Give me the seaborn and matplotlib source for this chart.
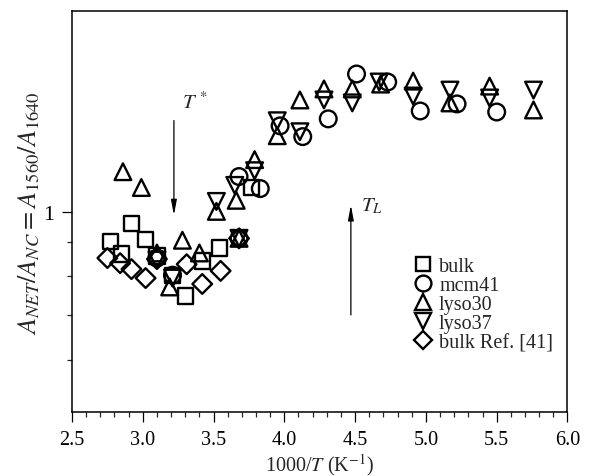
import matplotlib
matplotlib.use("Agg")
import matplotlib.pyplot as plt
import seaborn as sns
import pandas as pd
from matplotlib.lines import Line2D
from matplotlib.ticker import NullFormatter, MultipleLocator, FixedLocator

# ---- data ----
bulk_x = [2.77, 2.85, 2.92, 3.02, 3.10, 3.21, 3.30, 3.42, 3.54, 3.77]
bulk_y = [0.903, 0.864, 0.961, 0.909, 0.858, 0.803, 0.747, 0.843, 0.882, 1.087]

mcm41_x = [3.10, 3.21, 3.68, 3.68, 3.83, 3.97, 4.13, 4.31, 4.51, 4.73, 4.96, 5.22, 5.50]
mcm41_y = [0.852, 0.803, 0.912, 1.129, 1.083, 1.345, 1.296, 1.378, 1.609, 1.565, 1.416, 1.451, 1.411]

lyso30_x = [2.86, 2.99, 3.10, 3.19, 3.28, 3.40, 3.52, 3.66, 3.68, 3.79, 3.95, 4.11,
            4.28, 4.48, 4.68, 4.91, 5.17, 5.45, 5.76]
lyso30_y = [1.148, 1.087, 0.867, 0.771, 0.906, 0.867, 1.001, 1.040, 0.912, 1.197, 1.300, 1.471,
            1.528, 1.528, 1.554, 1.570, 1.456, 1.543, 1.421]

lyso37_x = [3.10, 3.21, 3.52, 3.65, 3.68, 3.79, 3.95, 4.11, 4.28, 4.48, 4.67, 4.91, 5.17, 5.45, 5.76]
lyso37_y = [0.846, 0.795, 1.036, 1.095, 0.912, 1.152, 1.369, 1.318, 1.471, 1.456, 1.565, 1.491,
            1.522, 1.481, 1.522]

ref_x = [2.75, 2.84, 2.92, 3.02, 3.10, 3.31, 3.42, 3.55, 3.68]
ref_y = [0.852, 0.837, 0.820, 0.795, 0.849, 0.834, 0.779, 0.815, 0.912]

series_names = ["bulk", "mcm41", "lyso30", "lyso37", "bulk Ref. [41]"]
series_x = [bulk_x, mcm41_x, lyso30_x, lyso37_x, ref_x]
series_y = [bulk_y, mcm41_y, lyso30_y, lyso37_y, ref_y]
series_markers = ["s", "o", "^", "v", "D"]
series_sizes = [11.0, 12.0, 12.0, 12.0, 10.0]   # marker size in points

x_ticks = [2.5, 3.0, 3.5, 4.0, 4.5, 5.0, 5.5, 6.0]
x_tick_labels = ["2.5", "3.0", "3.5", "4.0", "4.5", "5.0", "5.5", "6.0"]

# ---- style ----
sns.set_theme(style="ticks")
plt.rcParams["font.family"] = ["Liberation Serif", "DejaVu Serif"]
plt.rcParams["mathtext.fontset"] = "stix"
plt.rcParams["axes.linewidth"] = 1.1

fig = plt.figure(figsize=(5.91, 4.77), dpi=100)
ax = fig.add_axes([0.1218, 0.1335, 0.8384, 0.8413])

frames = []
for name, xs, ys in zip(series_names, series_x, series_y):
    frames.append(pd.DataFrame({"x": xs, "y": ys, "series": name}))
df = pd.concat(frames, ignore_index=True)

for name, mk, ms in zip(series_names, series_markers, series_sizes):
    sub = df[df["series"] == name]
    sns.scatterplot(data=sub, x="x", y="y", ax=ax, marker=mk, s=ms ** 2,
                    color="black", facecolor="none", edgecolor="black",
                    linewidth=1.7, legend=False, zorder=3)

ax.set_yscale("log")
ax.set_xlim(2.5, 6.0)
ax.set_ylim(0.5, 2.0)

ax.xaxis.set_major_locator(FixedLocator(x_ticks))
ax.set_xticklabels(x_tick_labels)
ax.xaxis.set_minor_locator(MultipleLocator(0.1))
ax.yaxis.set_major_locator(FixedLocator([1.0]))
ax.set_yticklabels(["1"])
ax.yaxis.set_minor_locator(FixedLocator([0.6, 0.7, 0.8, 0.9]))
ax.yaxis.set_minor_formatter(NullFormatter())

ax.tick_params(axis="both", which="major", direction="out", length=7.5, width=0.9,
               labelsize=14.5, colors="black", pad=5)
ax.tick_params(axis="y", which="major", labelsize=16)
ax.tick_params(axis="both", which="minor", direction="out", length=3.8, width=0.9)
ax.tick_params(top=False, right=False, which="both")
for sp in ax.spines.values():
    sp.set_visible(True)
    sp.set_color("black")

ax.set_xlabel(r"1000/$T$ (K$^{-1}$)", fontsize=14.5, labelpad=2)
ax.set_ylabel(r"$A_{NET}/A_{NC}=A_{1560}/A_{1640}$", fontsize=19, labelpad=1)

# arrows & labels
arrow_kw = dict(arrowstyle="-|>,head_length=0.9,head_width=0.17", color="black",
                lw=0.9, shrinkA=0, shrinkB=0, mutation_scale=10)
ax.annotate("", xy=(3.22, 0.988), xytext=(3.22, 1.37), arrowprops=arrow_kw)
ax.annotate("", xy=(4.47, 1.023), xytext=(4.47, 0.70), arrowprops=arrow_kw)
ax.text(3.28, 1.46, r"$T^{\,*}$", fontsize=15, ha="left", va="center")
ax.text(4.54, 1.02, r"$T_L$", fontsize=15, ha="left", va="center")

# legend
handles = [Line2D([], [], linestyle="none", marker=mk, markersize=ms * 0.95,
                  markerfacecolor="none", markeredgecolor="black", markeredgewidth=1.7)
           for mk, ms in zip(series_markers, series_sizes)]
ax.legend(handles, series_names, loc="upper left", bbox_to_anchor=(0.69, 0.3875),
          frameon=False, fontsize=14.5, handlelength=0.9, handletextpad=0.35,
          labelspacing=0.0, borderaxespad=0, borderpad=0)

fig.savefig("out.png", dpi=100)
